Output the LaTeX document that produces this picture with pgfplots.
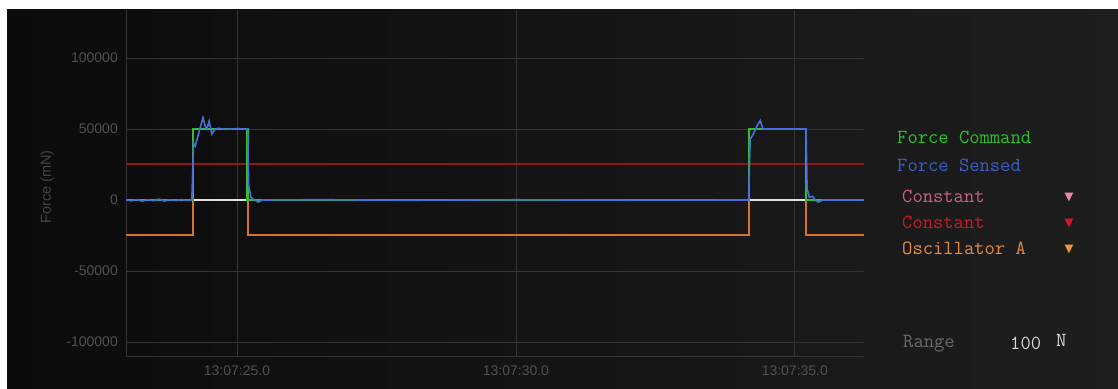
\documentclass[border=0pt]{standalone}
\usepackage{pgfplots}
\pgfplotsset{compat=1.18}
\usepackage{fontspec}
\setmainfont{Liberation Sans}
\newfontfamily\symfont{DejaVu Sans}

\definecolor{bgL}{RGB}{11,11,11}
\definecolor{bgR}{RGB}{30,30,30}
\definecolor{gridc}{RGB}{52,52,52}
\definecolor{tickc}{RGB}{80,80,80}
\definecolor{titlec}{RGB}{68,68,68}
\definecolor{cmdgreen}{RGB}{50,190,50}
\definecolor{sensblue}{RGB}{70,110,220}
\definecolor{constred}{RGB}{150,22,22}
\definecolor{zeroline}{RGB}{225,225,225}
\definecolor{oscorange}{RGB}{215,115,40}
\definecolor{legred}{RGB}{205,25,35}
\definecolor{legorange}{RGB}{230,140,65}
\definecolor{legpink}{RGB}{200,95,140}
\definecolor{leggreen}{RGB}{40,195,40}
\definecolor{legblue}{RGB}{60,95,200}

\begin{document}
\begin{tikzpicture}[x=1pt,y=1pt]
\useasboundingbox (0,0) rectangle (1118,388);
\fill[white] (0,0) rectangle (1118,388);
\shade[left color=bgL, right color=bgR] (7,0) rectangle (1118,378);

\begin{axis}[
  at={(126pt,32pt)}, anchor=south west,
  scale only axis, width=738pt, height=346pt,
  xmin=23.01, xmax=36.24,
  ymin=-109860, ymax=133800,
  scaled x ticks=false, scaled y ticks=false,
  axis x line*=bottom, axis y line*=left,
  axis line style={draw=gridc, line width=0.8pt, -},
  xtick={25,30,35},
  xticklabels={13:07:25.0,13:07:30.0,13:07:35.0},
  ytick={-100000,-50000,0,50000,100000},
  yticklabels={-100000,-50000,0,50000,100000},
  major tick length=0pt,
  tick style={draw=none},
  grid=major,
  major grid style={draw=gridc, line width=0.8pt},
  ticklabel style={text=tickc, font=\fontsize{14}{14}\selectfont, inner sep=0pt},
  xticklabel style={anchor=north, yshift=-10pt},
  yticklabel style={anchor=east, xshift=-8pt},
  clip=true,
]
% Oscillator A
\addplot[draw=oscorange, line width=2pt] coordinates {
  (23.01,-25000) (24.21,-25000) (24.21,25000) (25.19,25000) (25.19,-25000)
  (34.18,-25000) (34.18,25000) (35.20,25000) (35.20,-25000) (36.24,-25000)
};
% Constant (red)
\addplot[draw=constred, line width=2pt] coordinates {(23.01,25000) (36.24,25000)};
% Constant (zero level)
\addplot[draw=zeroline, line width=1.6pt] coordinates {(23.01,0) (36.24,0)};
% Force Command
\addplot[draw=cmdgreen, line width=2.4pt] coordinates {
  (23.01,0) (24.21,0) (24.21,50000) (25.19,50000) (25.19,0)
  (34.18,0) (34.18,50000) (35.20,50000) (35.20,0) (36.24,0)
};
% Force Sensed
\addplot[draw=sensblue, line width=1.6pt] coordinates {
  (23.01,0) (23.10,-600) (23.20,300) (23.30,-800) (23.40,200) (23.50,-500)
  (23.60,600) (23.70,-700) (23.80,200) (23.90,-400) (24.00,300) (24.10,-300)
  (24.19,0) (24.22,40000) (24.25,38000) (24.30,45000) (24.39,58000)
  (24.43,52000) (24.46,50000) (24.50,55500) (24.55,46500) (24.60,49500)
  (24.65,50500) (24.80,49800) (25.00,50200) (25.19,50000) (25.21,10000)
  (25.25,2000) (25.30,300) (25.38,-1500) (25.45,0) (26.50,200) (28.00,-200)
  (30.00,150) (32.00,-150) (34.17,0) (34.20,43000) (34.25,46000)
  (34.32,52000) (34.38,56000) (34.43,50000) (35.20,50000) (35.22,8000)
  (35.26,2000) (35.32,2500) (35.38,-600) (35.42,-1500) (35.50,0) (36.24,0)
};
\end{axis}

% axis title
\node[rotate=90, text=titlec, font=\fontsize{14.5}{14.5}\selectfont, inner sep=0pt] at (47,201) {Force (mN)};

% legend
\begin{scope}[every node/.style={anchor=base west, inner sep=0pt, font=\ttfamily\fontsize{20}{20}\selectfont}]
\node[text=leggreen] at (897,244) {Force Command};
\node[text=legblue] at (897,216.3) {Force Sensed};
\node[text=legpink] at (902,185.3) {Constant};
\node[text=legred] at (902,159.7) {Constant};
\node[text=legorange] at (902,133) {Oscillator A};
\node[text={rgb,255:red,105;green,105;blue,105}] at (903,40.7) {Range};
\node[text={rgb,255:red,215;green,215;blue,215}] at (1010,38.7) {100};
\node[text={rgb,255:red,215;green,215;blue,215}] at (1056,41.3) {N};
\end{scope}
\begin{scope}[every node/.style={inner sep=0pt, font=\symfont\fontsize{11.5}{11.5}\selectfont}]
\node[text={rgb,255:red,235;green,135;blue,175}] at (1069,190.7) {▼};
\node[text={rgb,255:red,220;green,20;blue,40}] at (1069,164.7) {▼};
\node[text={rgb,255:red,240;green,150;blue,60}] at (1069,138) {▼};
\end{scope}
\end{tikzpicture}
\end{document}
